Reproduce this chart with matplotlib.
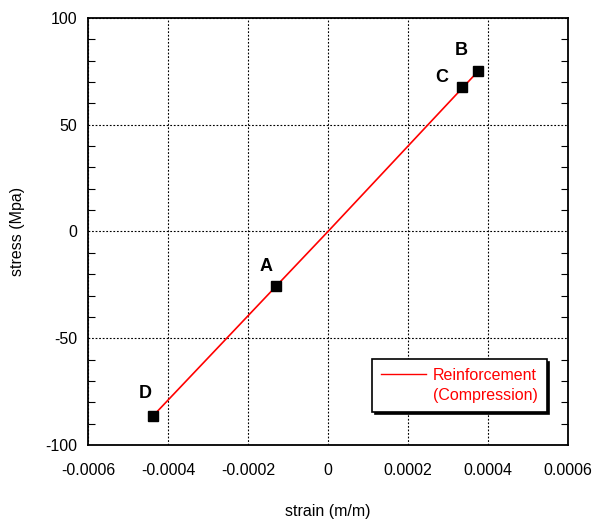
import matplotlib
matplotlib.use("Agg")
import matplotlib.pyplot as plt
from matplotlib.ticker import MultipleLocator, FuncFormatter
from matplotlib.lines import Line2D

plt.rcParams['font.family'] = ['Liberation Sans', 'DejaVu Sans']
plt.rcParams['axes.unicode_minus'] = False

# Key points on the reinforcement stress-strain path
point_names = ["A", "B", "C", "D"]
point_strain = [-0.00013, 0.000375, 0.000335, -0.000438]
point_stress = [-25.5, 75.0, 67.5, -86.5]

# Linear-elastic reinforcement curve (compression run)
curve_strain = [-0.000438, 0.0, 0.000375]
curve_stress = [-86.5, 0.0, 75.0]

fig = plt.figure(figsize=(5.95, 5.21), dpi=100)
ax = fig.add_axes([0.1479, 0.1459, 0.8067, 0.8196])

ax.plot(curve_strain, curve_stress, color="#ff0000", lw=1.2, zorder=3)
ax.plot(point_strain, point_stress, ls="none", marker="s", ms=6.5,
        color="black", zorder=4)

label_offsets = {"A": (-10, 19), "B": (-17, 21), "C": (-20, 10), "D": (-8, 23)}
for name, x, y in zip(point_names, point_strain, point_stress):
    dx, dy = label_offsets[name]
    ax.annotate(name, (x, y), xytext=(dx, dy), textcoords="offset pixels",
                ha="center", va="center", fontsize=13, fontweight="bold")

ax.set_xlim(-0.0006, 0.0006)
ax.set_ylim(-100, 100)
ax.xaxis.set_major_locator(MultipleLocator(0.0002))
ax.yaxis.set_major_locator(MultipleLocator(50))
ax.yaxis.set_minor_locator(MultipleLocator(10))
ax.xaxis.set_major_formatter(FuncFormatter(lambda v, p: "0" if abs(v) < 1e-12 else "{:g}".format(round(v, 6))))

ax.tick_params(axis="both", which="both", direction="in", labelsize=11.5)
ax.tick_params(axis="y", which="both", right=True)
ax.tick_params(axis="y", which="major", length=0, pad=8)
ax.tick_params(axis="y", which="minor", length=5, width=0.8)
ax.tick_params(axis="x", which="major", length=0, pad=13)

ax.grid(True, which="major", color="black", linestyle=(0, (1.6, 1.6)), linewidth=0.8)
for s in ax.spines.values():
    s.set_linewidth(1.3)

ax.set_xlabel("strain (m/m)", fontsize=11.5, labelpad=19)
ax.set_ylabel("stress (Mpa)", fontsize=11.5, labelpad=14)

handles = [Line2D([], [], color="#ff0000", lw=1.0),
           Line2D([], [], color="none")]
leg = ax.legend(handles, ["Reinforcement", "(Compression)"],
                loc="upper left", bbox_to_anchor=(0.592, 0.201),
                borderaxespad=0, fontsize=11.5, labelcolor="#ff0000",
                handlelength=2.8, handletextpad=0.45, labelspacing=0.3,
                borderpad=0.55, fancybox=False, framealpha=1,
                edgecolor="black",
                shadow={"color": "black", "alpha": 1})
leg.get_frame().set_linewidth(1.2)

fig.savefig("out.png", dpi=100)
